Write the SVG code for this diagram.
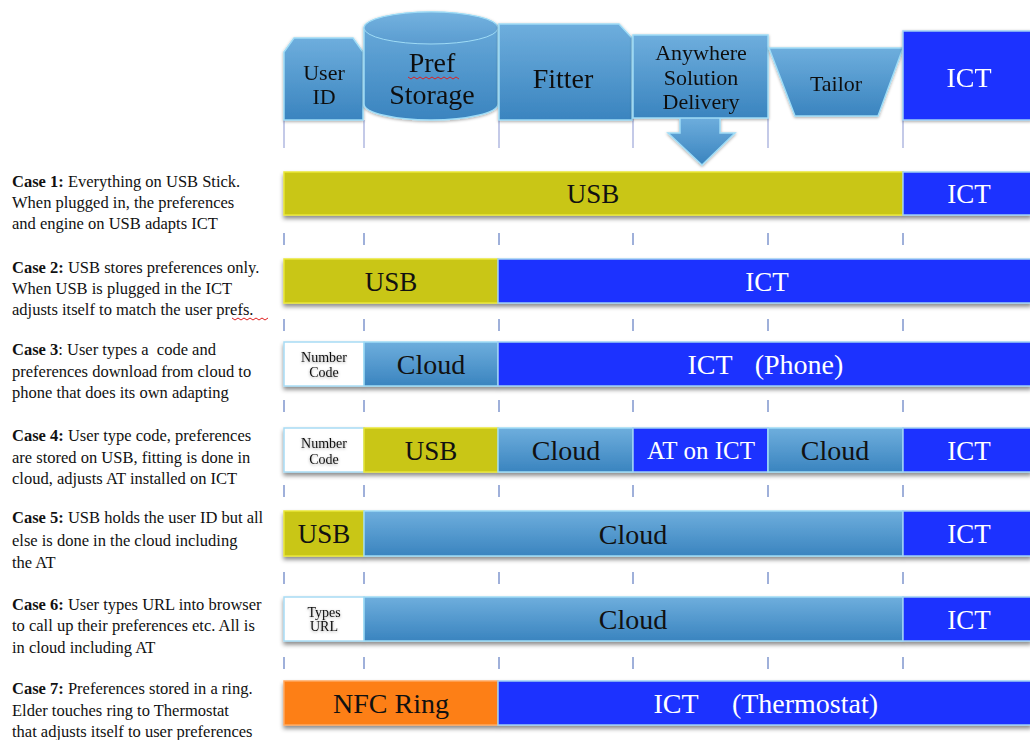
<svg xmlns="http://www.w3.org/2000/svg" width="1030" height="740" viewBox="0 0 1030 740">
<style>
  .lbl{font-family:"Liberation Serif","Times New Roman",serif;fill:#111;}
  .wt{font-family:"Liberation Serif","Times New Roman",serif;fill:#fff;}
  .case{font-family:"Liberation Serif","Times New Roman",serif;font-size:16.5px;fill:#111;}
  .b{font-weight:bold;}
  .blue{fill:url(#gBlue);stroke:#9fdcf6;stroke-width:1.5;}
  .ict{fill:#1f33ff;stroke:#9fd0f4;stroke-width:1.5;}
  .usb{fill:#c9c612;stroke:#e9e63a;stroke-width:1.5;}
  .nfc{fill:#fd7f12;stroke:#ffa860;stroke-width:1.5;}
  .wbox{fill:#ffffff;stroke:#a8dcf5;stroke-width:1.5;}
  .tick{stroke:#9fb0da;stroke-width:2;}
  .guide{stroke:#b0b8e0;stroke-width:1.5;}
  .sq{fill:none;stroke:#e02020;stroke-width:1;}
</style>
<defs>
  <linearGradient id="gBlue" x1="0" y1="0" x2="0" y2="1">
    <stop offset="0" stop-color="#6eaedd"/>
    <stop offset="1" stop-color="#3a84bf"/>
  </linearGradient>
  <linearGradient id="gTop" x1="0" y1="0" x2="0" y2="1">
    <stop offset="0" stop-color="#74b2df"/>
    <stop offset="1" stop-color="#5a9cd0"/>
  </linearGradient>
  <filter id="sh" x="-5%" y="-20%" width="110%" height="160%">
    <feDropShadow dx="0" dy="3" stdDeviation="2" flood-color="#000" flood-opacity="0.45"/>
  </filter>
  <filter id="glow" x="-20%" y="-20%" width="140%" height="140%">
    <feDropShadow dx="0" dy="1" stdDeviation="1.5" flood-color="#000" flood-opacity="0.35"/>
  </filter>
</defs>
<rect width="1030" height="740" fill="#ffffff"/>

<!-- guide lines and ticks -->
<g id="connectors">
  <g class="guide">
    <line x1="284" y1="120" x2="284" y2="148"/><line x1="364" y1="120" x2="364" y2="148"/>
    <line x1="499" y1="120" x2="499" y2="148"/><line x1="633" y1="118" x2="633" y2="148"/>
    <line x1="768" y1="118" x2="768" y2="148"/><line x1="903" y1="120" x2="903" y2="148"/>
  </g>
  <g class="tick">
    <line x1="284" y1="233" x2="284" y2="245"/><line x1="364" y1="233" x2="364" y2="245"/><line x1="499" y1="233" x2="499" y2="245"/><line x1="633" y1="233" x2="633" y2="245"/><line x1="768" y1="233" x2="768" y2="245"/><line x1="903" y1="233" x2="903" y2="245"/>
    <line x1="284" y1="319" x2="284" y2="331"/><line x1="364" y1="319" x2="364" y2="331"/><line x1="499" y1="319" x2="499" y2="331"/><line x1="633" y1="319" x2="633" y2="331"/><line x1="768" y1="319" x2="768" y2="331"/><line x1="903" y1="319" x2="903" y2="331"/>
    <line x1="284" y1="400" x2="284" y2="412"/><line x1="364" y1="400" x2="364" y2="412"/><line x1="499" y1="400" x2="499" y2="412"/><line x1="633" y1="400" x2="633" y2="412"/><line x1="768" y1="400" x2="768" y2="412"/><line x1="903" y1="400" x2="903" y2="412"/>
    <line x1="284" y1="485" x2="284" y2="497"/><line x1="364" y1="485" x2="364" y2="497"/><line x1="499" y1="485" x2="499" y2="497"/><line x1="633" y1="485" x2="633" y2="497"/><line x1="768" y1="485" x2="768" y2="497"/><line x1="903" y1="485" x2="903" y2="497"/>
    <line x1="284" y1="572" x2="284" y2="584"/><line x1="364" y1="572" x2="364" y2="584"/><line x1="499" y1="572" x2="499" y2="584"/><line x1="633" y1="572" x2="633" y2="584"/><line x1="768" y1="572" x2="768" y2="584"/><line x1="903" y1="572" x2="903" y2="584"/>
    <line x1="284" y1="657" x2="284" y2="669"/><line x1="364" y1="657" x2="364" y2="669"/><line x1="499" y1="657" x2="499" y2="669"/><line x1="633" y1="657" x2="633" y2="669"/><line x1="768" y1="657" x2="768" y2="669"/><line x1="903" y1="657" x2="903" y2="669"/>
  </g>
</g>

<!-- header -->
<g id="userid" filter="url(#glow)">
  <polygon class="blue" points="284,52 294,38 353,38 363,52 363,120 284,120"/>
  <text class="lbl" x="324" y="80" font-size="22" text-anchor="middle">User</text>
  <text class="lbl" x="324" y="104" font-size="22" text-anchor="middle">ID</text>
</g>
<g id="prefstorage" filter="url(#glow)">
  <path class="blue" d="M364,28 L364,104 A67,16 0 0 0 498,104 L498,28 A67,16 0 0 0 364,28 Z"/>
  <ellipse cx="431" cy="28" rx="67" ry="16" fill="url(#gTop)" stroke="#9fdcf6" stroke-width="1"/>
  <text class="lbl" x="432" y="72" font-size="28" text-anchor="middle">Pref</text>
  <path class="sq" d="M408,77 l3,2 l3,-2 l3,2 l3,-2 l3,2 l3,-2 l3,2 l3,-2 l3,2 l3,-2 l3,2 l3,-2 l3,2 l3,-2 l3,2 l3,-2 l3,2"/>
  <text class="lbl" x="432" y="104" font-size="28" text-anchor="middle">Storage</text>
</g>
<g id="fitter" filter="url(#glow)">
  <polygon class="blue" points="499,24 619,24 632,38 632,120 499,120"/>
  <text class="lbl" x="563" y="88" font-size="28" text-anchor="middle">Fitter</text>
</g>
<g id="anywhere" filter="url(#glow)">
  <polygon class="blue" points="680,117 720,117 720,133 735,133 702,165 668,133 680,133"/>
  <rect class="blue" x="633" y="35" width="135" height="83"/>
  <text class="lbl" x="701" y="60" font-size="22" text-anchor="middle">Anywhere</text>
  <text class="lbl" x="701" y="85" font-size="22" text-anchor="middle">Solution</text>
  <text class="lbl" x="701" y="109" font-size="22" text-anchor="middle">Delivery</text>
</g>
<g id="tailor" filter="url(#glow)">
  <polygon class="blue" points="769,48 903,48 878,116 795,116"/>
  <text class="lbl" x="836" y="91" font-size="22" text-anchor="middle">Tailor</text>
</g>
<g id="ict-header" filter="url(#glow)">
  <rect class="ict" x="903" y="31" width="128" height="89"/>
  <text class="wt" x="969" y="87" font-size="28" text-anchor="middle">ICT</text>
</g>

<!-- Case 1 -->
<g id="case1">
  <text class="case" x="12" y="187"><tspan class="b">Case 1:</tspan> Everything on USB Stick.</text>
  <text class="case" x="12" y="208">When plugged in, the preferences</text>
  <text class="case" x="12" y="229">and engine on USB adapts ICT</text>
  <g filter="url(#sh)">
    <rect class="usb" x="284" y="172" width="619" height="43"/>
    <rect class="ict" x="903" y="172" width="128" height="43"/>
  </g>
  <text class="lbl" x="593" y="203" font-size="27" text-anchor="middle">USB</text>
  <text class="wt" x="969" y="203" font-size="27" text-anchor="middle">ICT</text>
</g>

<!-- Case 2 -->
<g id="case2">
  <text class="case" x="12" y="273"><tspan class="b">Case 2:</tspan> USB stores preferences only.</text>
  <text class="case" x="12" y="294">When USB is plugged in the ICT</text>
  <text class="case" x="12" y="315">adjusts itself to match the user prefs.</text>
  <g filter="url(#sh)">
    <rect class="usb" x="284" y="259" width="214" height="44"/>
    <rect class="ict" x="498" y="259" width="533" height="44"/>
  </g>
  <text class="lbl" x="391" y="291" font-size="27" text-anchor="middle">USB</text>
  <text class="wt" x="767" y="291" font-size="27" text-anchor="middle">ICT</text>
</g>

<!-- Case 3 -->
<g id="case3">
  <text class="case" x="12" y="355" style="white-space:pre"><tspan class="b">Case 3</tspan>: User types a  code and</text>
  <text class="case" x="12" y="377">preferences download from cloud to</text>
  <text class="case" x="12" y="398">phone that does its own adapting</text>
  <g filter="url(#sh)">
    <rect class="wbox" x="284" y="342" width="80" height="44"/>
    <rect class="blue" x="364" y="342" width="134" height="44"/>
    <rect class="ict" x="498" y="342" width="533" height="44"/>
  </g>
  <g filter="url(#glow)">
    <text class="lbl" x="324" y="362" font-size="14" text-anchor="middle">Number</text>
    <text class="lbl" x="324" y="377" font-size="14" text-anchor="middle">Code</text>
  </g>
  <text class="lbl" x="431" y="374" font-size="28" text-anchor="middle">Cloud</text>
  <text class="wt" x="710" y="374" font-size="28" text-anchor="middle">ICT</text>
  <text class="wt" x="799" y="374" font-size="28" text-anchor="middle">(Phone)</text>
</g>

<!-- Case 4 -->
<g id="case4">
  <text class="case" x="12" y="441"><tspan class="b">Case 4:</tspan> User type code, preferences</text>
  <text class="case" x="12" y="463">are stored on USB, fitting is done in</text>
  <text class="case" x="12" y="484">cloud, adjusts AT installed on ICT</text>
  <g filter="url(#sh)">
    <rect class="wbox" x="284" y="428" width="80" height="44"/>
    <rect class="usb" x="364" y="428" width="134" height="44"/>
    <rect class="blue" x="498" y="428" width="135" height="44"/>
    <rect class="ict" x="633" y="428" width="135" height="44"/>
    <rect class="blue" x="768" y="428" width="135" height="44"/>
    <rect class="ict" x="903" y="428" width="128" height="44"/>
  </g>
  <g filter="url(#glow)">
    <text class="lbl" x="324" y="448" font-size="14" text-anchor="middle">Number</text>
    <text class="lbl" x="324" y="464" font-size="14" text-anchor="middle">Code</text>
  </g>
  <text class="lbl" x="431" y="460" font-size="27" text-anchor="middle">USB</text>
  <text class="lbl" x="566" y="460" font-size="28" text-anchor="middle">Cloud</text>
  <text class="wt" x="701" y="459" font-size="25" text-anchor="middle">AT on ICT</text>
  <text class="lbl" x="835" y="460" font-size="28" text-anchor="middle">Cloud</text>
  <text class="wt" x="969" y="460" font-size="27" text-anchor="middle">ICT</text>
</g>

<!-- Case 5 -->
<g id="case5">
  <text class="case" x="12" y="523"><tspan class="b">Case 5:</tspan> USB holds the user ID but all</text>
  <text class="case" x="12" y="546">else is done in the cloud including</text>
  <text class="case" x="12" y="568">the AT</text>
  <g filter="url(#sh)">
    <rect class="usb" x="284" y="511" width="80" height="45"/>
    <rect class="blue" x="364" y="511" width="539" height="45"/>
    <rect class="ict" x="903" y="511" width="128" height="45"/>
  </g>
  <text class="lbl" x="324" y="543" font-size="27" text-anchor="middle">USB</text>
  <text class="lbl" x="633" y="544" font-size="28" text-anchor="middle">Cloud</text>
  <text class="wt" x="969" y="543" font-size="27" text-anchor="middle">ICT</text>
</g>

<!-- Case 6 -->
<g id="case6">
  <text class="case" x="12" y="610"><tspan class="b">Case 6:</tspan> User types URL into browser</text>
  <text class="case" x="12" y="631">to call up their preferences etc. All is</text>
  <text class="case" x="12" y="653">in cloud including AT</text>
  <g filter="url(#sh)">
    <rect class="wbox" x="284" y="597" width="80" height="44"/>
    <rect class="blue" x="364" y="597" width="539" height="44"/>
    <rect class="ict" x="903" y="597" width="128" height="44"/>
  </g>
  <g filter="url(#glow)">
    <text class="lbl" x="324" y="617" font-size="14" text-anchor="middle">Types</text>
    <text class="lbl" x="324" y="631" font-size="14" text-anchor="middle">URL</text>
  </g>
  <text class="lbl" x="633" y="629" font-size="28" text-anchor="middle">Cloud</text>
  <text class="wt" x="969" y="629" font-size="27" text-anchor="middle">ICT</text>
</g>

<!-- Case 7 -->
<g id="case7">
  <text class="case" x="12" y="694"><tspan class="b">Case 7:</tspan> Preferences stored in a ring.</text>
  <text class="case" x="12" y="716">Elder touches ring to Thermostat</text>
  <text class="case" x="12" y="737">that adjusts itself to user preferences</text>
  <g filter="url(#sh)">
    <rect class="nfc" x="284" y="681" width="214" height="44"/>
    <rect class="ict" x="498" y="681" width="533" height="44"/>
  </g>
  <text class="lbl" x="391" y="713" font-size="28" text-anchor="middle">NFC Ring</text>
  <text class="wt" x="676" y="713" font-size="28" text-anchor="middle">ICT</text>
  <text class="wt" x="805" y="713" font-size="28" text-anchor="middle">(Thermostat)</text>
</g>
<path class="sq" d="M232,318 l3,2 l3,-2 l3,2 l3,-2 l3,2 l3,-2 l3,2 l3,-2 l3,2 l3,-2 l3,2 l3,-2"/>
</svg>
